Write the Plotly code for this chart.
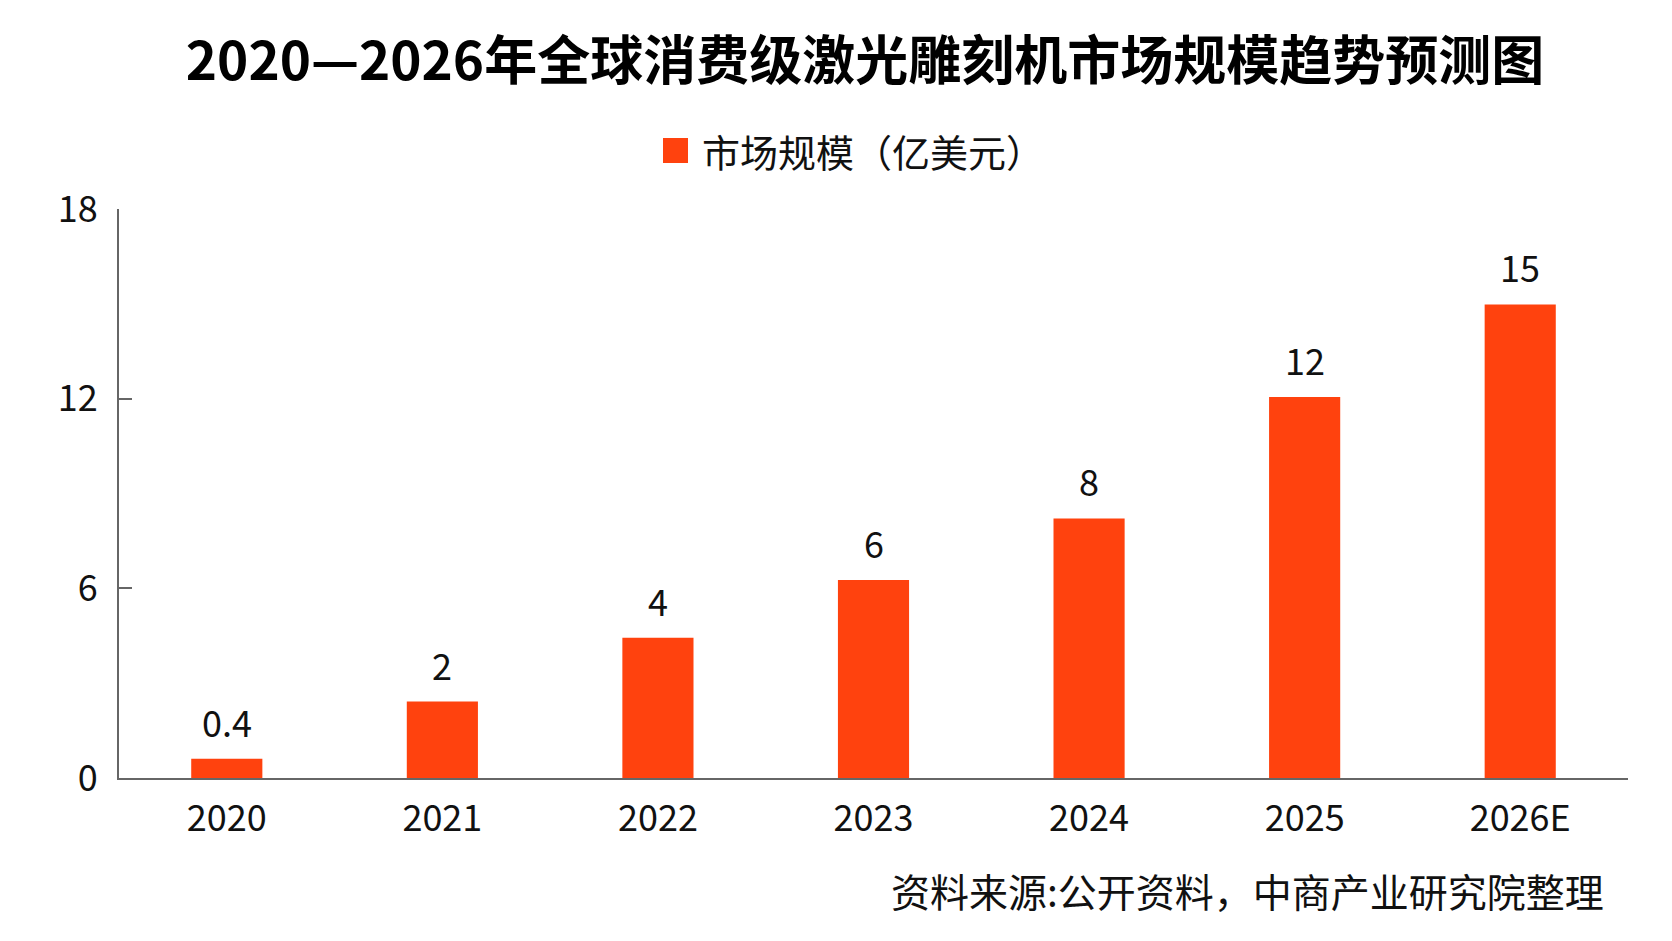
import plotly.graph_objects as go

categories = ["2020", "2021", "2022", "2023", "2024", "2025", "2026E"]
bar_values = [0.61, 2.42, 4.44, 6.26, 8.21, 12.05, 14.98]
label_texts = ["0.4", "2", "4", "6", "8", "12", "15"]
y_ticks = [0, 6, 12, 18]
series_name = "市场规模（亿美元）"
title_text = "2020—2026年全球消费级激光雕刻机市场规模趋势预测图"
source_text = "资料来源:公开资料，中商产业研究院整理"

BAR_COLOR = "#FF420E"
FONT = "Noto Sans CJK SC"
AXIS_COLOR = "#666666"

L, R, T, B = 119, 44, 209, 163
PW = 1672 - L - R
PH = 941 - T - B

fig = go.Figure()
fig.add_trace(go.Bar(
    x=categories, y=bar_values, name=series_name,
    marker=dict(color=BAR_COLOR, line=dict(width=0)),
    width=0.33, showlegend=False,
))

for i, (v, t) in enumerate(zip(bar_values, label_texts)):
    fig.add_annotation(x=i, y=v, text=t, showarrow=False, xref="x", yref="y",
                       yanchor="middle", yshift=38,
                       font=dict(family=FONT, size=36, color="#111111"))

# Legend drawn as paper-anchored shape + text
fig.add_shape(type="rect", xref="paper", yref="paper",
              x0=(663 - L) / PW, x1=(688 - L) / PW,
              y0=(941 - B - 138) / PH, y1=(941 - B - 163) / PH,
              fillcolor=BAR_COLOR, line=dict(width=0))
fig.add_annotation(xref="paper", yref="paper", x=(700 - L) / PW, y=(941 - B - 150) / PH,
                   text=series_name, showarrow=False, xanchor="left", yanchor="middle",
                   font=dict(family=FONT, size=38, color="#111111"))

fig.add_annotation(xref="paper", yref="paper", x=(1606 - L) / PW, y=(941 - B - 890) / PH,
                   text=source_text, showarrow=False, xanchor="right", yanchor="middle",
                   font=dict(family=FONT, size=39, color="#111111"))

fig.update_layout(
    width=1672, height=941,
    margin=dict(l=L, r=R, t=T, b=B, autoexpand=False),
    paper_bgcolor="white", plot_bgcolor="white",
    title=dict(text="<b>" + title_text + "</b>", x=865 / 1672, xanchor="center",
               y=1 - 61 / 941, yanchor="middle",
               font=dict(family=FONT, size=53, color="#000000")),
    font=dict(family=FONT, color="#111111"),
)
fig.update_xaxes(
    type="category", range=[-0.5, 6.5],
    showline=True, linecolor=AXIS_COLOR, linewidth=2,
    ticks="", showgrid=False, zeroline=False,
    tickfont=dict(family=FONT, size=36, color="#111111"),
    ticklabelstandoff=8,
)
fig.update_yaxes(
    range=[0, 18], tickvals=y_ticks, ticktext=[str(v) for v in y_ticks],
    showline=True, linecolor=AXIS_COLOR, linewidth=2,
    ticks="inside", ticklen=13, tickwidth=2, tickcolor=AXIS_COLOR,
    showgrid=False, zeroline=False,
    tickfont=dict(family=FONT, size=36, color="#111111"),
    ticklabelstandoff=12,
)

fig.write_html("out.html")
